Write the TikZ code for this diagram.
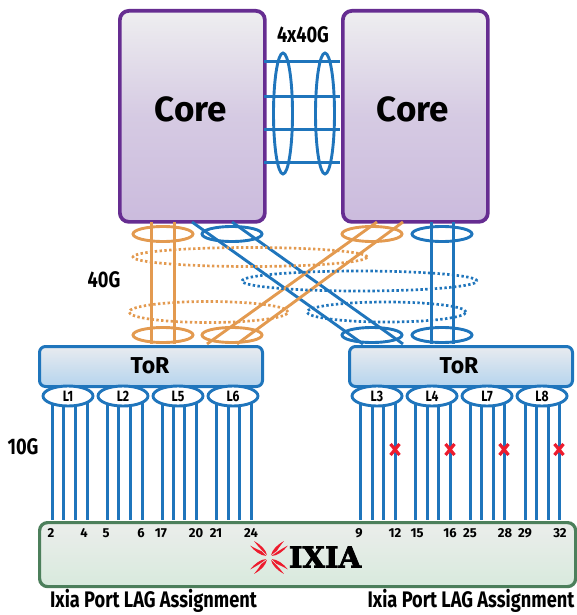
\documentclass[tikz,border=0pt]{standalone}
\usepackage{fontspec}
\setmainfont{Fira Sans}
\newfontfamily\lblfont[FakeStretch=0.81,BoldFont={Fira Sans Bold},BoldFeatures={FakeStretch=0.81}]{Fira Sans}
\newfontfamily\numfont[BoldFont={Fira Sans Bold}]{Fira Sans}
\newfontfamily\logofont[BoldFont={DejaVu Serif Bold},BoldFeatures={FakeBold=2.5}]{DejaVu Serif}
\usetikzlibrary{shapes.geometric}
\definecolor{linkblue}{HTML}{1F75BC}
\definecolor{linkorange}{HTML}{E39A50}
\definecolor{corepurple}{HTML}{662D91}
\definecolor{boxgreen}{HTML}{4C7F5B}
\definecolor{xred}{HTML}{ED1C2E}
\definecolor{coretop}{HTML}{EEEEF0}
\definecolor{corebot}{HTML}{CBBBDD}
\definecolor{tortop}{HTML}{E8EBEF}
\definecolor{torbot}{HTML}{B5D4EE}
\definecolor{ixtop}{HTML}{EBEDEB}
\definecolor{ixbot}{HTML}{D8EADD}
\tikzset{
  corebox/.style={draw=corepurple,line width=3.7pt,rounded corners=9pt,minimum width=145pt,minimum height=211pt,top color=coretop,bottom color=corebot,middle color=corebot!70!coretop,anchor=north west,inner sep=0pt},
  torbox/.style={draw=linkblue,line width=3pt,rounded corners=6pt,minimum width=223pt,minimum height=40pt,top color=tortop,bottom color=torbot,anchor=north west,inner sep=0pt},
  ixiabox/.style={draw=boxgreen,line width=3.2pt,rounded corners=8pt,minimum width=536pt,minimum height=64pt,top color=ixtop,bottom color=ixbot,anchor=north west,inner sep=0pt},
  bluelink/.style={draw=linkblue,line width=2.9pt},
  orangelink/.style={draw=linkorange,line width=2.9pt},
  straightblue/.style={draw=linkblue,line width=3pt},
  straightorange/.style={draw=linkorange,line width=3pt},
  bundle/.style={ellipse,line width=2.9pt,fill=none,inner sep=0pt,minimum width=60pt,minimum height=15pt},
  dotbundle/.style={ellipse,line width=2.7pt,dash pattern=on 2.4pt off 2.4pt,fill=none,inner sep=0pt},
  lag/.style={ellipse,draw=linkblue,line width=2.9pt,fill=white,inner sep=0pt,minimum width=50pt,minimum height=20pt,font=\lblfont\bfseries\fontsize{15}{15}\selectfont},
  tenlink/.style={draw=linkblue,line width=3pt},
  lbl/.style={font=\lblfont\bfseries\fontsize{22.5}{22.5}\selectfont,inner sep=0pt},
  corelbl/.style={font=\numfont\bfseries\fontsize{35}{35}\selectfont,inner sep=0pt},
  torlbl/.style={font=\numfont\bfseries\fontsize{23}{23}\selectfont,inner sep=0pt},
  portnum/.style={font=\numfont\bfseries\fontsize{13}{13}\selectfont,inner sep=0pt,anchor=base},
  failmark/.style={draw=xred,line width=3.2pt},
}
\newcommand{\feather}[1]{%
  \begin{scope}[rotate around={#1:(269,557.5)}]
    \fill[xred] (272,557) .. controls (277,553.5) and (283,553) .. (291,554.5)
       .. controls (286,555.5) and (282,556.5) .. (279,557.5) -- cycle;
    \fill[xred] (272,558) .. controls (277,558.2) and (283,558.6) .. (291,560.5)
       .. controls (284,562) and (276,561.5) .. (272,558) -- cycle;
  \end{scope}}
\begin{document}
\begin{tikzpicture}[x=1pt,y=-1pt]
\useasboundingbox (0,0) rectangle (576,615);
\node[corebox] (core1) at (118,9) {};
\node[corebox] (core2) at (341,9) {};
\node[torbox] (tor1) at (38,345) {};
\node[torbox] (tor2) at (348,345) {};
\node[ixiabox] (ixia) at (38,521) {};
\node[corelbl] (coret1) at (191,109) {Core};
\node[corelbl] (coret2) at (413,109) {Core};
\node[torlbl] (tort1) at (150,365.5) {ToR};
\node[torlbl] (tort2) at (459,365.5) {ToR};
\foreach \y in {62,97,129,162}{
  \coordinate (ca\y) at (264,\y);
  \coordinate (cb\y) at (340,\y);
  \draw[straightblue] (ca\y) -- (cb\y);
}
\node[bundle,draw=linkblue,minimum width=19pt,minimum height=121pt] (b1) at (283,113.5) {};
\node[bundle,draw=linkblue,minimum width=19pt,minimum height=121pt] (b2) at (325,113.5) {};
\node[lbl] (t4x) at (303,35) {4x40G};
% uplinks
\foreach \n/\xa/\xb/\sty in {o1/151/151/straightorange,o2/174/174/straightorange,
   bl1/192/363/bluelink,bl2/232/403/bluelink,
   o3/377/207/orangelink,o4/403/237/orangelink,
   bl3/431/431/straightblue,bl4/453/453/straightblue}{
  \coordinate (\n a) at (\xa,222);
  \coordinate (\n b) at (\xb,344);
  \draw[\sty] (\n a) -- (\n b);
}
\foreach \n/\x/\y/\c in {e1/163/234/linkorange,e2/232/234/linkblue,e3/372/234/linkorange,e4/442/234/linkblue,
   e5/163/335/linkorange,e6/232/335/linkorange,e7/372/335/linkblue,e8/442/335/linkblue}{
  \node[bundle,draw=\c] (\n) at (\x,\y) {};
}
\node[dotbundle,draw=linkorange,minimum width=234pt,minimum height=19pt] (d1) at (250,257) {};
\node[dotbundle,draw=linkblue,minimum width=235pt,minimum height=20pt] (d2) at (359.5,281) {};
\node[dotbundle,draw=linkorange,minimum width=159pt,minimum height=21pt] (d3) at (208.5,312) {};
\node[dotbundle,draw=linkblue,minimum width=159pt,minimum height=20pt] (d4) at (386.5,312) {};
\node[lbl] (t40) at (104,280) {40G};
\node[lbl] (t10) at (23,447) {10G};
% 10G links
\foreach \x in {52,63,75,87,107,118,130,142,162,173,184,196,216,228,239,251,360,372,383,395,415,427,438,450,470,481,493,504,525,536,548,559}{
  \coordinate (top\x) at (\x,398);
  \coordinate (bot\x) at (\x,520);
  \draw[tenlink] (top\x) -- (bot\x);
}
\foreach \n/\x in {L1/68,L2/123,L5/178,L6/233,L3/377,L4/432,L7/487,L8/542}{
  \node[lag] (\n) at (\x,396) {\n};
}
% failed links
\foreach \x in {395,450,504,559}{
  \coordinate (fa\x) at (\x-4.5,444);
  \coordinate (fb\x) at (\x+4.5,455);
  \coordinate (fc\x) at (\x+4.5,444);
  \coordinate (fd\x) at (\x-4.5,455);
  \draw[failmark] (fa\x) -- (fb\x) (fc\x) -- (fd\x);
}
% port numbers
\foreach \x/\t in {51/2,84/4,106/5,141/6,161/17,196/20,216/21,251/24,359/9,395/12,417/15,450/16,470/25,505/28,525/29,560/32}{
  \node[portnum] (p\t) at (\x,537) {\t};
}
% logo
\feather{40}\feather{140}\feather{220}\feather{320}
\node[font=\logofont\bfseries\fontsize{29}{29}\selectfont,inner sep=0pt] (logo) at (325,557) {IXIA};
% captions
\node[lbl] (cap1) at (153.5,601) {Ixia Port LAG Assignment};
\node[lbl] (cap2) at (471,601) {Ixia Port LAG Assignment};
\end{tikzpicture}
\end{document}
